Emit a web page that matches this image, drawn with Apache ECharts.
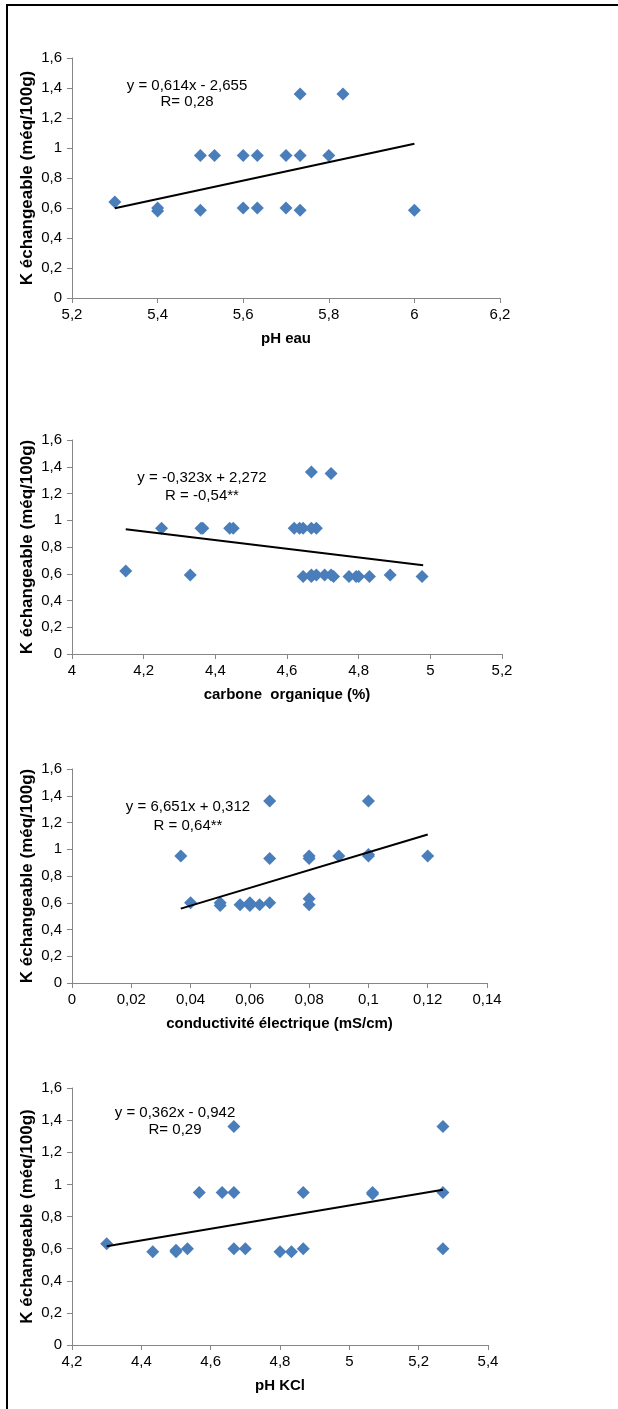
<!DOCTYPE html>
<html><head><meta charset="utf-8">
<script src="https://cdn.jsdelivr.net/npm/echarts@6/dist/echarts.min.js"></script>
<style>html,body{margin:0;padding:0;background:#fff}#c{width:618px;height:1409px}</style>
</head><body><div id="c"></div>
<script>
// ---- data ----
const yTitle = 'K échangeable (méq/100g)';
const xTitles = ['pH eau', 'carbone  organique (%)', 'conductivité électrique (mS/cm)', 'pH KCl'];
const eqTexts = [['y = 0,614x - 2,655', 'R= 0,28'], ['y = -0,323x + 2,272', 'R = -0,54**'], ['y = 6,651x + 0,312', 'R = 0,64**'], ['y = 0,362x - 0,942', 'R= 0,29']];
const xMins = [5.2, 4, 0, 4.2];
const xMaxs = [6.2, 5.2, 0.14, 5.4];
const xSteps = [0.2, 0.2, 0.02, 0.2];
const yTicks = [0, 0.2, 0.4, 0.6, 0.8, 1, 1.2, 1.4, 1.6];

const phEau = [[5.3,0.64],[5.4,0.6],[5.4,0.58],[5.5,0.95],[5.5,0.585],[5.533,0.95],[5.6,0.95],[5.6,0.6],[5.633,0.95],[5.633,0.6],[5.7,0.95],[5.7,0.6],[5.733,1.36],[5.733,0.95],[5.733,0.585],[5.8,0.95],[5.833,1.36],[6.0,0.585]];
const carbone = [[4.15,0.62],[4.25,0.94],[4.33,0.59],[4.36,0.94],[4.365,0.94],[4.44,0.94],[4.45,0.94],[4.62,0.94],[4.635,0.94],[4.645,0.94],[4.668,0.94],[4.682,0.94],[4.668,1.36],[4.723,1.35],[4.645,0.58],[4.668,0.58],[4.668,0.59],[4.682,0.59],[4.705,0.59],[4.723,0.59],[4.73,0.58],[4.773,0.58],[4.793,0.58],[4.80,0.58],[4.83,0.58],[4.888,0.59],[4.977,0.58]];
const conductivite = [[0.0367,0.95],[0.04,0.6],[0.05,0.6],[0.05,0.58],[0.0567,0.585],[0.06,0.6],[0.06,0.58],[0.0633,0.585],[0.0667,0.6],[0.0667,0.93],[0.0667,1.36],[0.08,0.95],[0.08,0.93],[0.08,0.63],[0.08,0.585],[0.09,0.95],[0.1,1.36],[0.1,0.95],[0.1,0.96],[0.12,0.95]];
const phKcl = [[4.3,0.63],[4.433,0.58],[4.5,0.59],[4.5,0.58],[4.533,0.6],[4.567,0.95],[4.633,0.95],[4.667,0.95],[4.667,1.36],[4.667,0.6],[4.7,0.6],[4.8,0.58],[4.833,0.58],[4.867,0.6],[4.867,0.95],[5.067,0.94],[5.067,0.95],[5.27,1.36],[5.27,0.95],[5.27,0.6]];
const trend1 = [[5.3,0.599],[6.0,1.029]];
const trend2 = [[4.15,0.932],[4.98,0.663]];
const trend3 = [[0.0367,0.556],[0.12,1.11]];
const trend4 = [[4.3,0.615],[5.27,0.966]];

const points = [phEau, carbone, conductivite, phKcl];
const trends = [trend1, trend2, trend3, trend4];

// ---- layout ----
const grids = [
  {left:72, top:58, width:428, height:240},
  {left:72, top:440, width:430, height:214},
  {left:72, top:769, width:415, height:214},
  {left:72, top:1088, width:416, height:257}
];
const eqPos = [[187,86,102],[202,478,496],[188,807,826],[175,1113,1130]];
const FONT = '"Liberation Sans", Arial, sans-serif';
const fmt = v => String(parseFloat(Number(v).toFixed(3))).replace('.', ',');

const axisLine = {lineStyle:{color:'#868686', width:1}};
const axisTick = {show:true, inside:false, length:5, lineStyle:{color:'#868686'}};

const option = {
  animation:false,
  backgroundColor:'#fff',
  grid: grids.map(g => Object.assign({containLabel:false}, g)),
  xAxis: grids.map((g,i) => ({
    type:'value', gridIndex:i, min:xMins[i], max:xMaxs[i], interval:xSteps[i],
    name:xTitles[i], nameLocation:'middle', nameGap:33, nameMoveOverlap:false,
    nameTextStyle:{fontFamily:FONT, fontWeight:'bold', fontSize:15, color:'#000'},
    axisLine, axisTick, splitLine:{show:false},
    axisLabel:{fontFamily:FONT, fontSize:15, color:'#000', margin:9, formatter:fmt}
  })),
  yAxis: grids.map((g,i) => ({
    type:'value', gridIndex:i, min:yTicks[0], max:yTicks[yTicks.length-1], interval:yTicks[1]-yTicks[0],
    name:yTitle, nameLocation:'middle', nameGap:36, nameRotate:90, nameMoveOverlap:false,
    nameTextStyle:{fontFamily:FONT, fontWeight:'bold', fontSize:17, color:'#000'},
    axisLine:{show:true, lineStyle:{color:'#868686', width:1}}, axisTick, splitLine:{show:false},
    axisLabel:{fontFamily:FONT, fontSize:15, color:'#000', margin:10, formatter:fmt}
  })),
  series: [].concat(
    points.map((d,i) => ({
      type:'scatter', xAxisIndex:i, yAxisIndex:i, data:d,
      symbol:'diamond', symbolSize:13,
      itemStyle:{color:'#4A7EBB', opacity:1}
    })),
    trends.map((d,i) => ({
      type:'line', xAxisIndex:i, yAxisIndex:i, data:d, showSymbol:false, symbol:'none',
      lineStyle:{color:'#000', width:2}, z:3
    }))
  ),
  graphic: [
    {type:'line', shape:{x1:7, y1:5, x2:618, y2:5}, style:{stroke:'#000', lineWidth:2}},
    {type:'line', shape:{x1:7, y1:4, x2:7, y2:1409}, style:{stroke:'#000', lineWidth:2}}
  ].concat(...eqPos.map((p,i) => [
    {type:'text', x:p[0], y:p[1], style:{text:eqTexts[i][0], font:'15px ' + FONT, fill:'#000', align:'center', verticalAlign:'middle'}},
    {type:'text', x:p[0], y:p[2], style:{text:eqTexts[i][1], font:'15px ' + FONT, fill:'#000', align:'center', verticalAlign:'middle'}}
  ]))
};
const chart = echarts.init(document.getElementById('c'), null, {renderer:'canvas'});
chart.setOption(option);
</script></body></html>
